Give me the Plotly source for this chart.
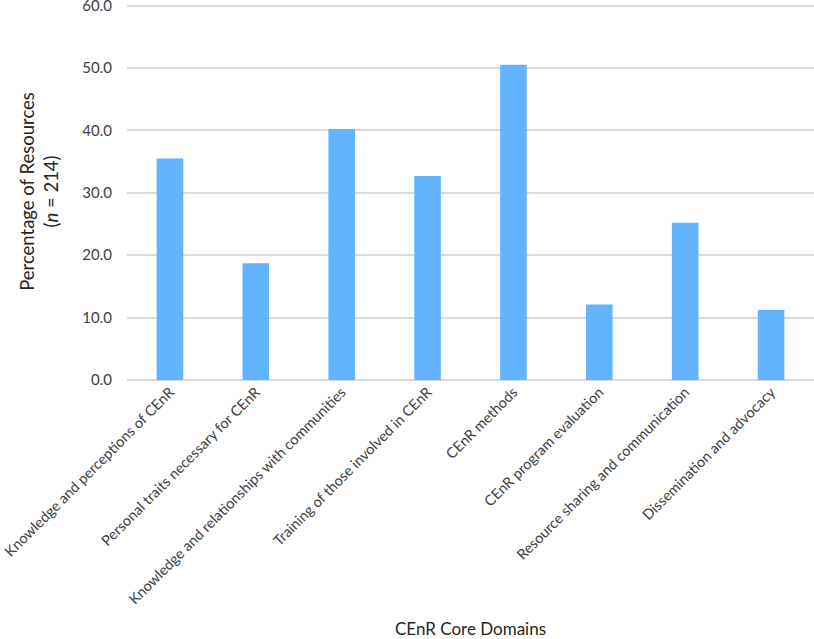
import plotly.graph_objects as go

categories = [
    "Knowledge and perceptions of CEnR",
    "Personal traits necessary for CEnR",
    "Knowledge and relationships with communities",
    "Training of those involved in CEnR",
    "CEnR methods",
    "CEnR program evaluation",
    "Resource sharing and communication",
    "Dissemination and advocacy",
]
percentages = [35.5, 18.7, 40.2, 32.7, 50.5, 12.1, 25.2, 11.2]
y_ticks = [0, 10, 20, 30, 40, 50, 60]
y_tick_labels = ["0.0", "10.0", "20.0", "30.0", "40.0", "50.0", "60.0"]

FONT = "Lato"

fig = go.Figure(
    go.Bar(
        x=categories,
        y=percentages,
        marker=dict(color="#63B4FF", line=dict(width=0)),
        width=0.31,
    )
)

fig.update_layout(
    width=814,
    height=639,
    margin=dict(l=127, r=0, t=3, b=259),
    plot_bgcolor="white",
    paper_bgcolor="white",
    showlegend=False,
    font=dict(family=FONT, color="#404040"),
    xaxis=dict(
        tickangle=-45,
        tickfont=dict(family=FONT, size=14.5, color="#404040"),
        ticklabeloverflow="allow",
        showgrid=False,
        showline=False,
        ticks="",
        automargin=False,
        title=dict(text="CEnR Core Domains", font=dict(family=FONT, size=17, color="#262626"), standoff=16),
    ),
    yaxis=dict(
        range=[0, 60.4],
        tickvals=y_ticks,
        ticktext=y_tick_labels,
        tickfont=dict(family=FONT, size=15, color="#404040"),
        ticklabeloverflow="allow",
        showgrid=True,
        gridcolor="#D9D9D9",
        gridwidth=1.5,
        zeroline=True,
        zerolinecolor="#D9D9D9",
        zerolinewidth=1.5,
        showline=False,
        ticks="",
        ticklabelstandoff=14,
        automargin=False,
        title=dict(
            text="Percentage of Resources<br>(<i>n</i> = 214)",
            font=dict(family=FONT, size=18.5, color="#262626"),
            standoff=18,
        ),
    ),
)

fig.write_html(
    "out.html",
    config={"displayModeBar": False},
    post_script="document.body.style.margin='0';document.body.style.overflow='hidden';",
)
